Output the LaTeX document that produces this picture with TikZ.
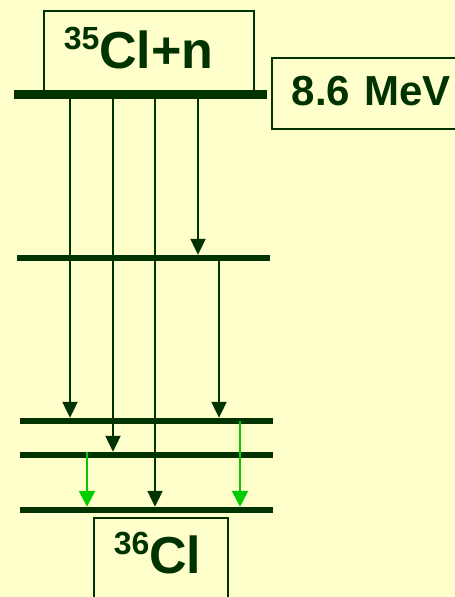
\documentclass[tikz,border=0pt]{standalone}
\usepackage{fontspec}
\setmainfont{Liberation Sans}
\usetikzlibrary{arrows.meta}
\definecolor{bgyellow}{HTML}{FFFFCC}
\definecolor{darkgreen}{HTML}{003300}
\definecolor{brightgreen}{HTML}{00CC00}
\newcommand{\isotope}[2]{\raisebox{19pt}{\fontsize{32}{32}\selectfont #1}#2}

\begin{document}
\begin{tikzpicture}[
  x=1pt, y=-1pt,
  level/.style={rectangle, fill=darkgreen, inner sep=0pt, minimum width=253pt, minimum height=6pt},
  labelbox/.style={rectangle, draw=darkgreen, line width=1.6pt, fill=bgyellow, inner xsep=20pt,
    align=left, text=darkgreen, font=\bfseries},
  gam/.style={-{Triangle[length=16pt,width=15pt]}, line width=2.2pt, draw=darkgreen},
  feed/.style={-{Triangle[length=16pt,width=16pt]}, line width=2.6pt, draw=brightgreen}
]
  \fill[bgyellow] (0,0) rectangle (455,597);
  \useasboundingbox (0,0) rectangle (455,597);

  % boxes
  \node[labelbox, anchor=north west, text width=170pt, minimum height=82pt, text depth=8pt,
    font=\bfseries\fontsize{52}{52}\selectfont] (target) at (43,10) {\isotope{35}{Cl+n}};
  \node[labelbox, anchor=north west, text width=200pt, minimum height=71pt, text depth=5pt,
    font=\bfseries\fontsize{42}{42}\selectfont] (energy) at (271,57) {8.6 MeV};
  \node[labelbox, anchor=north west, text width=94pt, minimum height=80pt, text depth=9pt,
    font=\bfseries\fontsize{52}{52}\selectfont] (product) at (93,517) {\isotope{36}{Cl}};

  % levels
  \node[level, minimum height=9pt] (cap) at (140.5,94) {};
  \node[level] (e2) at (143.5,258) {};
  \node[level] (e3) at (146.5,421) {};
  \node[level] (e4) at (146.5,455) {};
  \node[level] (gs) at (146.5,510) {};

  % gamma rays from the capture state
  \foreach \x/\to in {70/e3, 113/e4, 155/gs, 198/e2}
    \draw[gam] (cap.south -| \x,0) -- (\to.north -| \x,0);
  \draw[gam] (e2.south -| 219,0) -- (e3.north -| 219,0);

  % lower transitions
  \draw[feed] (e4.north -| 87,0) -- (gs.north -| 87,0);
  \draw[feed] (e3 -| 240,0) -- (gs.north -| 240,0);
\end{tikzpicture}
\end{document}
